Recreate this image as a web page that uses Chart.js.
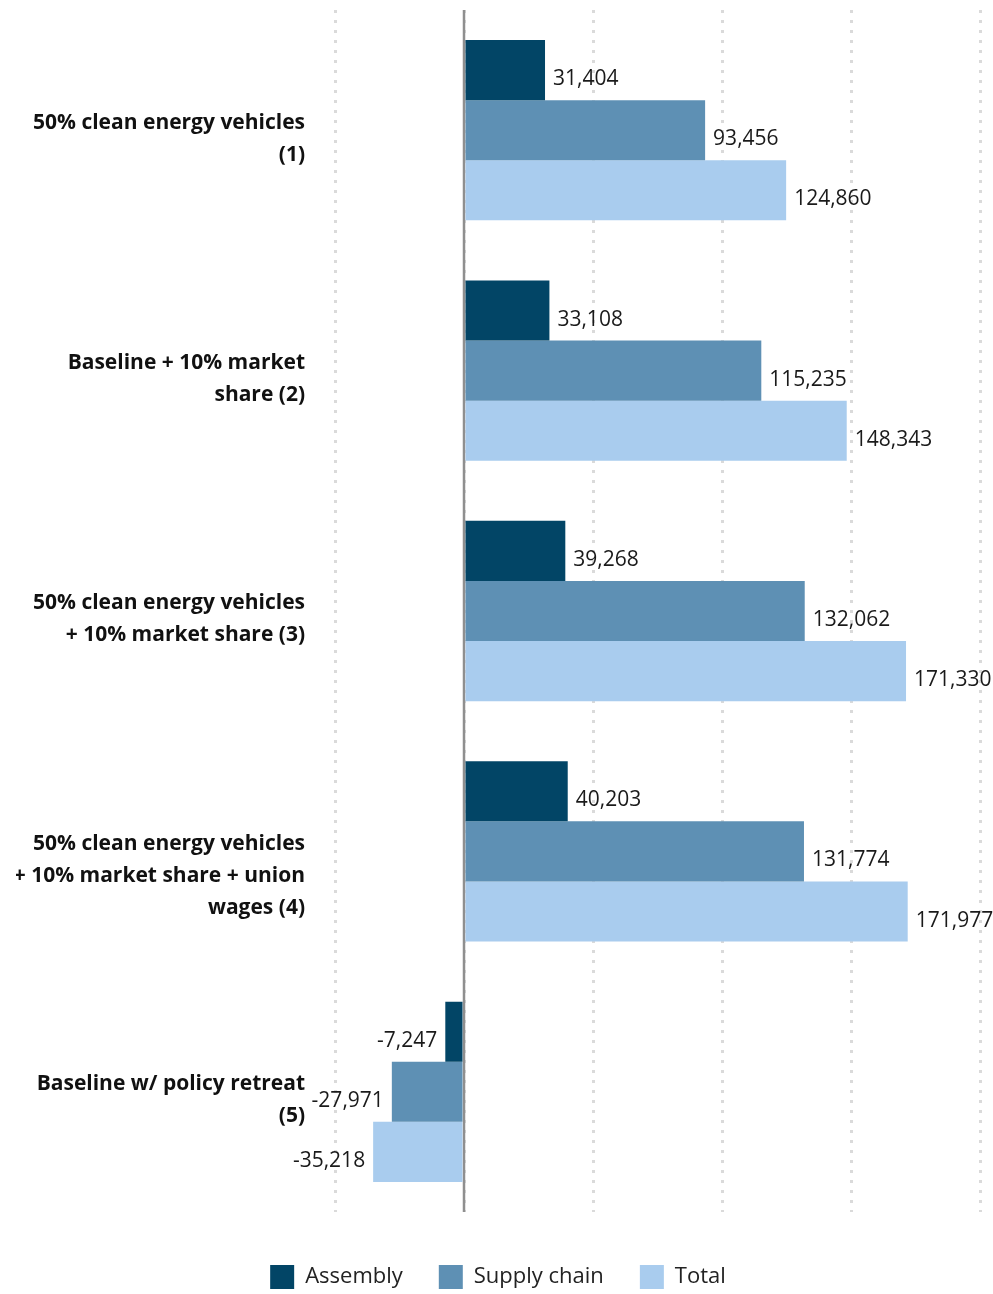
<!DOCTYPE html>
<html>
<head>
<meta charset="utf-8">
<script src="https://cdn.jsdelivr.net/npm/chart.js@4.4.0/dist/chart.umd.min.js"></script>
<style>
html,body{margin:0;padding:0;background:#ffffff;overflow:hidden}
canvas{display:block}
</style>
</head>
<body>
<canvas id="c" width="993" height="1294"></canvas>
<script>
// ---- data ----
const categories = [
  ['50% clean energy vehicles', '(1)'],
  ['Baseline + 10% market', 'share (2)'],
  ['50% clean energy vehicles', '+ 10% market share (3)'],
  ['50% clean energy vehicles', '+ 10% market share + union', 'wages (4)'],
  ['Baseline w/ policy retreat', '(5)']
];
const seriesNames = ['Assembly', 'Supply chain', 'Total'];
const assembly    = [31404, 33108, 39268, 40203, -7247];
const supplyChain = [93456, 115235, 132062, 131774, -27971];
const total       = [124860, 148343, 171330, 171977, -35218];
const xMin = -50000, xMax = 200000, xStep = 50000;

// ---- styles ----
const colors = ['#024566', '#5E90B4', '#A9CCEE'];
const FONT = "'Open Sans', 'Noto Sans', sans-serif";

const zeroLine = {
  id: 'zeroLine',
  beforeDatasetsDraw(chart) {
    const {ctx, chartArea} = chart;
    const x0 = chart.scales.x.getPixelForValue(0);
    ctx.save();
    ctx.strokeStyle = '#8f8f8f';
    ctx.lineWidth = 2.5;
    ctx.beginPath();
    ctx.moveTo(x0, chartArea.top);
    ctx.lineTo(x0, chartArea.bottom);
    ctx.stroke();
    ctx.restore();
  }
};

const valueLabels = {
  id: 'valueLabels',
  afterDatasetsDraw(chart) {
    const ctx = chart.ctx;
    ctx.save();
    ctx.font = "21px " + FONT;
    ctx.fillStyle = '#1a1a1a';
    ctx.textBaseline = 'alphabetic';
    chart.data.datasets.forEach((ds, di) => {
      const meta = chart.getDatasetMeta(di);
      meta.data.forEach((el, i) => {
        const v = ds.data[i];
        const txt = v.toLocaleString('en-US');
        const neg = v < 0;
        ctx.textAlign = neg ? 'right' : 'left';
        ctx.fillText(txt, el.x + (neg ? -8 : 8), el.y + 15);
      });
    });
    ctx.restore();
  }
};

const seriesData = [assembly, supplyChain, total];

new Chart(document.getElementById('c'), {
  type: 'bar',
  data: {
    labels: categories,
    datasets: seriesNames.map((name, i) => ({
      label: name,
      data: seriesData[i],
      backgroundColor: colors[i],
      borderWidth: 0,
      categoryPercentage: 0.75,
      barPercentage: 1.0
    }))
  },
  options: {
    indexAxis: 'y',
    responsive: false,
    animation: false,
    layout: { padding: { top: 10, right: 13, left: 16, bottom: -5 } },
    scales: {
      x: {
        min: xMin,
        max: xMax,
        ticks: { display: false, stepSize: xStep },
        grid: {
          color: '#dadada',
          lineWidth: 3,
          drawTicks: true,
          tickLength: 17,
          tickColor: 'rgba(0,0,0,0)'
        },
        border: { display: false, dash: [3, 7] }
      },
      y: {
        grid: { display: false, drawTicks: false },
        border: { display: false },
        afterFit(scale) {
          scale.width = 319;
          scale.paddingTop = 0;
          scale.paddingBottom = 0;
        },
        ticks: {
          padding: 30,
          labelOffset: 24.5,
          color: '#111111',
          font: { family: FONT, size: 21, weight: 'bold', lineHeight: '32px' },
          callback: (v, i) => {
            const l = categories[i].slice();
            while (l.length < 3) l.push('');
            return l;
          }
        }
      }
    },
    plugins: {
      tooltip: { enabled: false },
      legend: {
        position: 'bottom',
        labels: {
          boxWidth: 24,
          boxHeight: 24,
          padding: 36,
          color: '#222222',
          font: { family: FONT, size: 22 }
        }
      }
    }
  },
  plugins: [zeroLine, valueLabels]
});
</script>
</body>
</html>
